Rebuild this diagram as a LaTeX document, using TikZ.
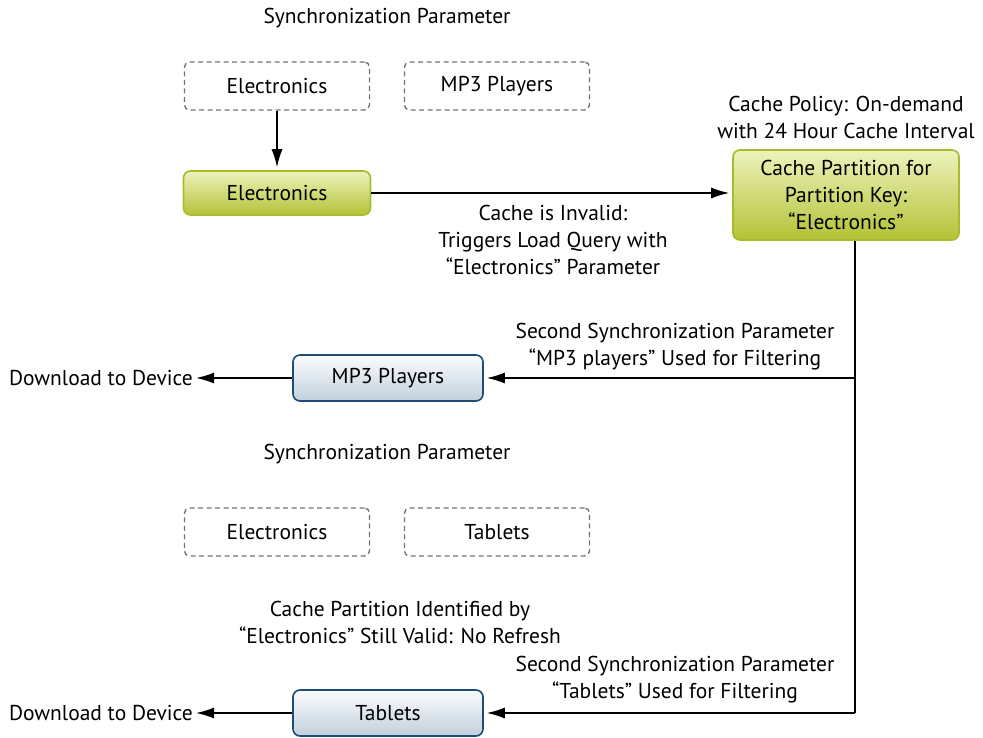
\documentclass[tikz,border=0pt]{standalone}
\usepackage{fontspec}
\setmainfont{PT Sans}
\usepackage{tikz}
\usetikzlibrary{arrows.meta, positioning, shadings}

\definecolor{grtop}{HTML}{EEF2BC}
\definecolor{grbot}{HTML}{B3C236}
\definecolor{grline}{HTML}{A9BA2C}
\definecolor{bltop}{HTML}{FAFCFE}
\definecolor{blbot}{HTML}{C2D0DD}
\definecolor{blline}{HTML}{1E4C78}

\begin{document}
\begin{tikzpicture}[x=1pt, y=-1pt, font=\fontsize{21.5}{27}\selectfont, >={Latex[length=18pt,width=11pt]},
    param/.style={draw=black!55, dash pattern=on 5pt off 3.5pt, line width=1.4pt, rounded corners=5pt,
        minimum width=185pt, minimum height=48pt},
    green/.style={draw=grline, line width=1.6pt, rounded corners=7pt, top color=grtop, bottom color=grbot,
        align=center},
    blue/.style={draw=blline, line width=1.6pt, rounded corners=7pt, top color=bltop, bottom color=blbot,
        minimum width=190pt, minimum height=46pt},
    lbl/.style={align=center, inner sep=0pt},
    conn/.style={line width=1.5pt, shorten >=3pt}]
    \useasboundingbox (0,0) rectangle (983,738);
    % first request
    \node[lbl] (sp1) at (387, 18) {Synchronization Parameter};
    \node[param] (pe1) at (277, 86) {Electronics};
    \node[param] (pm) at (497, 86) {MP3 Players};
    \node[green, minimum width=187pt, minimum height=44pt] (el) at (277, 193) {Electronics};
    \node[green, minimum width=226pt, minimum height=90pt] (cp) at (846, 195) {Cache Partition for\\Partition Key:\\“Electronics”};
    \node[lbl] (pol) at (846, 117) {Cache Policy: On-demand\\with 24 Hour Cache Interval};
    \node[lbl] (inv) at (553, 240) {Cache is Invalid:\\Triggers Load Query with\\“Electronics” Parameter};
    \draw[->, conn] (pe1) -- (el);
    \draw[->, conn] (el.east) -- (el.east -| cp.west);
    % MP3 players
    \coordinate (c1) at (855, 378);
    \coordinate (c2) at (855, 713);
    \node[blue] (mp) at (388, 378) {MP3 Players};
    \node[lbl, anchor=east] (dl1) at (193, 378) {Download to Device};
    \node[lbl] (f1) at (675, 347) {Second Synchronization Parameter\\“MP3 players” Used for Filtering};
    \draw[conn, shorten >=0pt] (cp.south -| c1) -- (c2);
    \draw[->, conn] (c1) -- (mp);
    \draw[->, conn] (mp) -- (dl1);
    % second request
    \node[lbl] (sp2) at (387, 454) {Synchronization Parameter};
    \node[param] (pe2) at (277, 532) {Electronics};
    \node[param] (pt) at (497, 532) {Tablets};
    \node[lbl] (val) at (400, 622) {Cache Partition Identified by\\“Electronics” Still Valid: No Refresh};
    \node[blue] (tb) at (388, 713) {Tablets};
    \node[lbl, anchor=east] (dl2) at (193, 713) {Download to Device};
    \node[lbl] (f2) at (675, 680) {Second Synchronization Parameter\\“Tablets” Used for Filtering};
    \draw[->, conn] (c2) -- (tb);
    \draw[->, conn] (tb) -- (dl2);
\end{tikzpicture}
\end{document}
